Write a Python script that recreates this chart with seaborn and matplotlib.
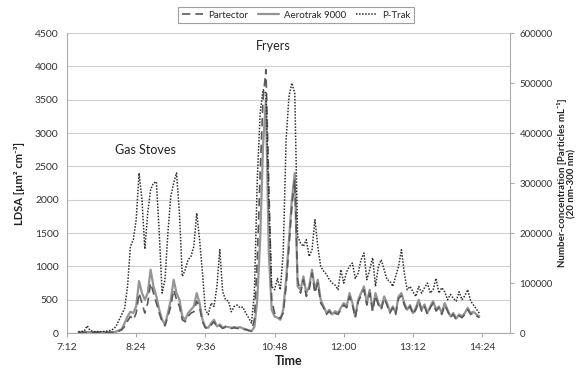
import numpy as np
import pandas as pd
import matplotlib
matplotlib.use("Agg")
import matplotlib.pyplot as plt
import seaborn as sns

# ---------------- data ----------------
start_time = "2016-01-01 07:24"
step_minutes = 3

partector = [10, 10, 10, 10, 10, 10, 10, 10, 10, 10, 10, 10, 10, 15, 30, 50, 100, 180, 250, 200,
             300, 600, 450, 300, 450, 750, 600, 450, 300, 170, 110, 250, 400, 650, 500, 400, 200, 170, 250, 300,
             320, 480, 380, 170, 80, 70, 120, 170, 90, 110, 70, 90, 80, 70, 80, 70, 80, 60, 50, 40,
             30, 200, 1100, 2400, 3500, 3950, 2200, 500, 300, 260, 220, 300, 700, 1300, 1900, 2300, 800, 600, 800, 550,
             650, 900, 600, 750, 450, 380, 280, 330, 260, 300, 280, 350, 420, 380, 550, 420, 230, 470, 560, 650,
             420, 600, 330, 560, 420, 350, 520, 420, 300, 380, 280, 520, 560, 420, 330, 400, 280, 350, 470, 330,
             400, 280, 380, 450, 330, 380, 280, 420, 330, 230, 280, 200, 260, 230, 280, 350, 280, 300, 260, 230]

aerotrak = [15, 15, 15, 15, 15, 15, 15, 15, 15, 15, 15, 15, 15, 20, 40, 60, 150, 250, 320, 300,
            400, 780, 600, 500, 600, 950, 700, 550, 350, 200, 130, 300, 500, 800, 600, 500, 250, 200, 300, 350,
            400, 600, 450, 200, 90, 80, 150, 200, 100, 130, 80, 100, 90, 80, 90, 80, 90, 70, 60, 40,
            30, 90, 500, 1400, 2800, 3500, 1200, 350, 250, 230, 200, 350, 800, 1400, 2000, 2400, 700, 650, 850, 600,
            700, 950, 650, 800, 500, 400, 300, 350, 280, 330, 300, 380, 450, 400, 600, 450, 250, 500, 600, 700,
            450, 650, 350, 600, 450, 380, 550, 450, 320, 400, 300, 550, 600, 450, 350, 420, 300, 380, 500, 350,
            430, 300, 400, 480, 350, 400, 300, 450, 350, 250, 300, 220, 280, 250, 300, 380, 300, 320, 280, 250]

ptrak = [2700, 3300, 4000, 14700, 5300, 3300, 2700, 3300, 2700, 3300, 4000, 5300, 8000, 13300, 25300, 37300, 49300, 93300, 173300, 186700,
         226700, 320000, 266700, 168000, 240000, 286700, 300000, 302700, 200000, 80000, 106700, 200000, 273300, 300000, 320000, 240000, 113300, 126700, 146700, 153300,
         173300, 240000, 186700, 120000, 46700, 37300, 60000, 53300, 93300, 166700, 82700, 66700, 64000, 42700, 53300, 56000, 50700, 52000, 40000, 30700,
         20000, 80000, 306700, 440000, 486700, 480000, 266700, 93300, 86700, 109300, 86700, 160000, 386700, 473300, 500000, 480000, 193300, 180000, 173300, 186700,
         153300, 166700, 226700, 173300, 133300, 124000, 117300, 106700, 100000, 96000, 86700, 126700, 100000, 122700, 133300, 140000, 109300, 120000, 146700, 160000,
         106700, 126700, 150700, 93300, 133300, 146700, 126700, 106700, 104000, 93300, 113300, 133300, 166700, 120000, 86700, 93300, 82700, 73300, 93300, 80000,
         90700, 100000, 80000, 86700, 109300, 80000, 90700, 82700, 66700, 77300, 69300, 64000, 82700, 66700, 74700, 86700, 64000, 56000, 48000, 40000]

series_names = ["Partector", "Aerotrak 9000", "P-Trak"]
x_tick_labels = ["7:12", "8:24", "9:36", "10:48", "12:00", "13:12", "14:24"]
left_ticks = [0, 500, 1000, 1500, 2000, 2500, 3000, 3500, 4000, 4500]
right_ticks = [0, 100000, 200000, 300000, 400000, 500000, 600000]

# ---------------- build frame ----------------
times = pd.date_range(start_time, periods=len(partector), freq=f"{step_minutes}min")
df = pd.DataFrame({"time": times, "Partector": partector,
                   "Aerotrak": aerotrak, "PTrak": ptrak})

sns.set_style("white")
plt.rcParams["font.family"] = ["Lato", "DejaVu Sans"]

fig = plt.figure(figsize=(5.84, 3.73), dpi=100)
ax = fig.add_axes([0.1147, 0.107, 0.873 - 0.1147, 0.9115 - 0.107])
ax2 = ax.twinx()

grid_c = "#d0d0d0"
for v in left_ticks:
    ax.axhline(v, color=grid_c, lw=0.8, zorder=0)

sns.lineplot(data=df, x="time", y="Aerotrak", ax=ax, color="#959595", lw=1.6,
             label=series_names[1], legend=False, zorder=3)
sns.lineplot(data=df, x="time", y="Partector", ax=ax, color="#5a5a5a", lw=1.2,
             label=series_names[0], legend=False, zorder=4)
ax.lines[-1].set_dashes([5, 3])
sns.lineplot(data=df, x="time", y="PTrak", ax=ax2, color="#2e2e2e", lw=1.1,
             label=series_names[2], legend=False, zorder=5)
ax2.lines[-1].set_dashes([1, 1])

base = pd.Timestamp("2016-01-01")
tick_pos = [base + pd.Timedelta(hours=int(s.split(":")[0]), minutes=int(s.split(":")[1]))
            for s in x_tick_labels]
x_lo = base + pd.Timedelta(hours=7, minutes=12)
x_hi = base + pd.Timedelta(hours=14, minutes=52.8)
ax.set_xlim(x_lo, x_hi)
ax.set_xticks(tick_pos)
ax.set_xticklabels(x_tick_labels)

ax.set_ylim(0, 4500)
ax.set_yticks(left_ticks)
ax.set_yticklabels([str(v) for v in left_ticks])
ax2.set_ylim(0, 600000)
ax2.set_yticks(right_ticks)
ax2.set_yticklabels([str(v) for v in right_ticks])

tick_c = "#333333"
for a in (ax, ax2):
    a.tick_params(axis="both", colors=tick_c, length=3, width=0.8)
    for s in a.spines.values():
        s.set_visible(False)
ax.tick_params(axis="y", length=0, labelsize=7.5, pad=6)
ax.tick_params(axis="x", direction="out", bottom=True, length=3, color="#aaaaaa",
               labelsize=7.5, pad=4)
ax2.tick_params(axis="y", direction="out", right=True, length=3, color="#aaaaaa",
                labelsize=7, pad=4)
ax.spines["left"].set_visible(True)
ax.spines["left"].set_color("#aaaaaa")
ax.spines["bottom"].set_visible(True)
ax.spines["bottom"].set_color("#aaaaaa")
ax2.spines["right"].set_visible(True)
ax2.spines["right"].set_color("#aaaaaa")

ax.set_xlabel("Time", fontsize=9, fontweight="bold", color="#222222", labelpad=2)
ax.set_ylabel("LDSA [µm² cm⁻³]", fontsize=8, fontweight="bold", color="#222222", labelpad=7)
ax2.set_ylabel("Number-concentration [Particles mL⁻¹]\n(20 nm-300 nm)", fontsize=7,
               fontweight="bold", color="#222222", labelpad=3, linespacing=1.1)

ax.text(base + pd.Timedelta(hours=8, minutes=34), 2745, "Gas Stoves", fontsize=9,
        ha="center", va="center", color="#222222")
ax.text(base + pd.Timedelta(hours=10, minutes=47), 4305, "Fryers", fontsize=9,
        ha="center", va="center", color="#222222")

h1, l1 = ax.get_legend_handles_labels()
h2, l2 = ax2.get_legend_handles_labels()
hmap = dict(zip(l1 + l2, h1 + h2))
leg = fig.legend([hmap[n] for n in series_names], series_names, loc="center",
                 bbox_to_anchor=(296 / 584, 1 - 15 / 373), ncol=3, fontsize=7,
                 frameon=True, fancybox=False, edgecolor="#888888",
                 handlelength=2.2, handletextpad=0.5, columnspacing=1.0, borderpad=0.35)
leg.get_frame().set_linewidth(0.8)

fig.savefig("out.png", dpi=100)
